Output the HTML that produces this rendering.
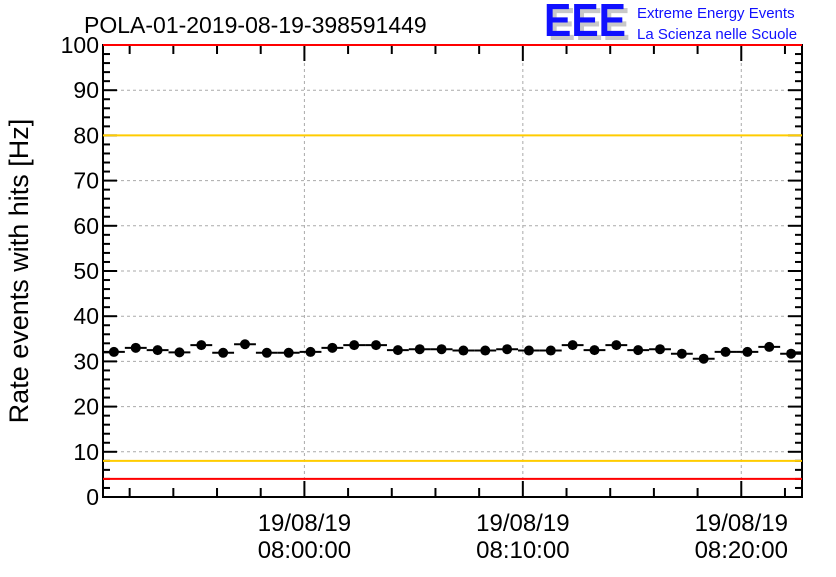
<!DOCTYPE html>
<html><head><meta charset="utf-8"><style>
body{margin:0;background:#fff;}
svg{font-family:"Liberation Sans",sans-serif;}
</style></head><body>
<svg id="c" width="836" height="572" viewBox="0 0 836 572" xmlns="http://www.w3.org/2000/svg">
<rect width="836" height="572" fill="#fff"/>
<text x="84" y="33" font-size="23" fill="#000">POLA-01-2019-08-19-398591449</text>
<g>
<text x="548" y="40" font-size="46" font-weight="bold" fill="#c8c8c8" textLength="82" lengthAdjust="spacingAndGlyphs">EEE</text>
<text x="544" y="36" font-size="46" font-weight="bold" fill="#1010ff" textLength="82" lengthAdjust="spacingAndGlyphs">EEE</text>
<text x="637" y="18" font-size="15" fill="#1010ff">Extreme Energy Events</text>
<text x="637" y="39" font-size="15" fill="#1010ff">La Scienza nelle Scuole</text>
</g>
<text transform="translate(28,271) rotate(-90)" text-anchor="middle" font-size="27" fill="#000">Rate events with hits [Hz]</text>
<g id="grid"></g><g id="axes"></g><g id="marks"></g>
</svg>
<script>
const values=[32.1,33,32.5,32,33.6,31.9,33.8,31.9,31.9,32.1,33,33.6,33.6,32.5,32.7,32.7,32.4,32.4,32.7,32.4,32.4,33.6,32.5,33.6,32.5,32.7,31.7,30.6,32.1,32.1,33.2,31.7];
const yTicks=[0,10,20,30,40,50,60,70,80,90,100];
const timeTicks=[0,10,20];
const timeLabels=["08:00:00","08:10:00","08:20:00"];
const dateLabel="19/08/19";
const limits=[{v:100,c:"#ff0000"},{v:80,c:"#ffcc00"},{v:8,c:"#ffcc00"},{v:4,c:"#ff0000"}];
const L=103,R=802,T=45,B=497;
const tMin=-9.22,tMax=tMin+values.length;
const X=t=>L+(t-tMin)/(tMax-tMin)*(R-L);
const Y=v=>B-v/100*(B-T);
const NS="http://www.w3.org/2000/svg";
function mk(p,tag,a){const e=document.createElementNS(NS,tag);for(const k in a)e.setAttribute(k,a[k]);document.getElementById(p).appendChild(e);return e;}
yTicks.forEach(v=>{if(v>0&&v<100){const g=mk('grid','line',{x1:L,x2:R,y1:Y(v),y2:Y(v),stroke:'#aaa','stroke-dasharray':'3,3'});

}
const t=mk('axes','text',{x:L-4,y:Y(v)+8,'text-anchor':'end','font-size':23});t.textContent=v;


mk('axes','line',{x1:L,x2:L+14,y1:Y(v),y2:Y(v),stroke:'#000','stroke-width':2});
mk('axes','line',{x1:R,x2:R-14,y1:Y(v),y2:Y(v),stroke:'#000','stroke-width':2});});
for(let v=2;v<100;v+=2){if(v%10){mk('axes','line',{x1:L,x2:L+7,y1:Y(v),y2:Y(v),stroke:'#000','stroke-width':2});mk('axes','line',{x1:R,x2:R-7,y1:Y(v),y2:Y(v),stroke:'#000','stroke-width':2});}}
timeTicks.forEach((t,i)=>{const g=mk('grid','line',{x1:X(t),x2:X(t),y1:T,y2:B,stroke:'#aaa','stroke-dasharray':'3,3'});


const a=mk('axes','text',{x:X(t),y:531,'text-anchor':'middle','font-size':24});a.textContent=dateLabel;


const b=mk('axes','text',{x:X(t),y:558,'text-anchor':'middle','font-size':24});b.textContent=timeLabels[i];

});
for(let t=-8;t<tMax;t+=2){const h=(t%10===0)?16:9;mk('axes','line',{x1:X(t),x2:X(t),y1:B,y2:B-h,stroke:'#000','stroke-width':2});mk('axes','line',{x1:X(t),x2:X(t),y1:T,y2:T+h,stroke:'#000','stroke-width':2});}
mk('axes','rect',{x:L,y:T,width:R-L,height:B-T,fill:'none',stroke:'#000','stroke-width':2});
limits.forEach(l=>{const e=mk('marks','line',{x1:L,x2:R,y1:Y(l.v),y2:Y(l.v),stroke:l.c,'stroke-width':2});

});
values.forEach((v,i)=>{const t0=tMin+i;
const h=mk('marks','line',{x1:X(t0),x2:X(t0+1),y1:Y(v),y2:Y(v),stroke:'#000','stroke-width':2});


const c=mk('marks','circle',{cx:X(t0+0.5),cy:Y(v),r:5,fill:'#000'});

});
</script>
</body></html>
